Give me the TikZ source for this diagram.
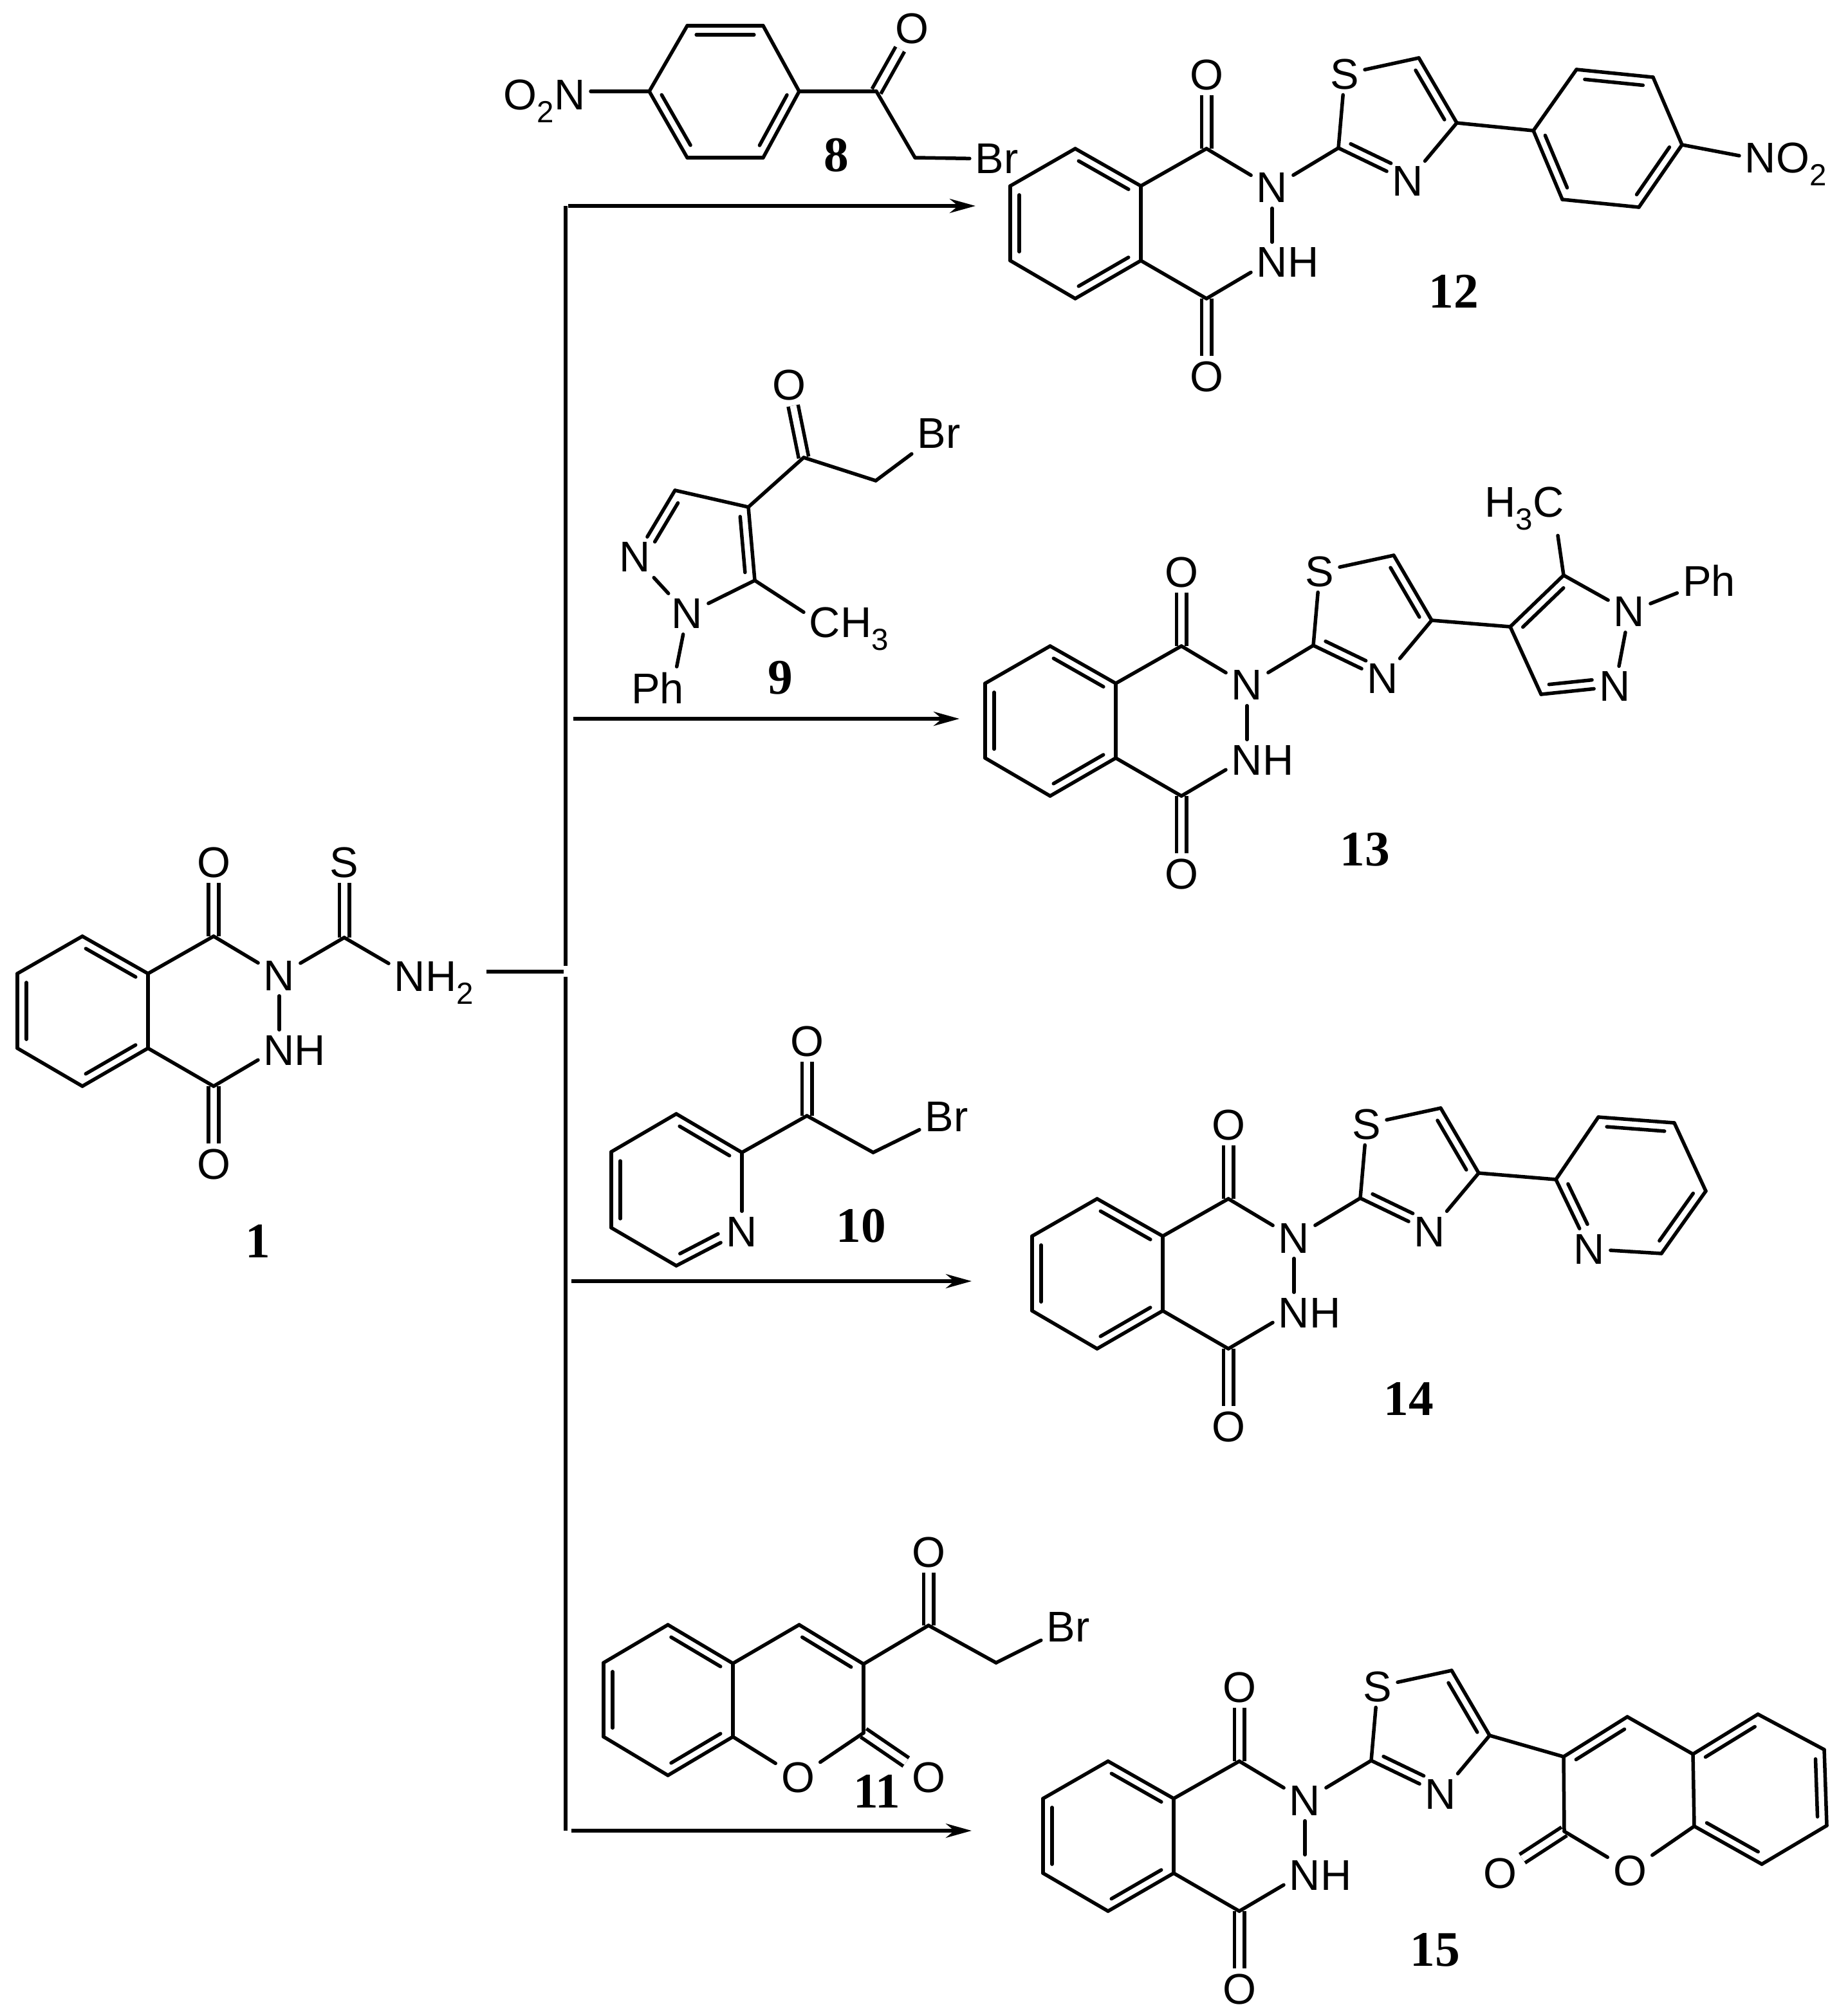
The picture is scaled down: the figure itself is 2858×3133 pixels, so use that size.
\documentclass[tikz,border=0pt]{standalone}
\usepackage{fontspec}
\setmainfont{Liberation Sans}
\newfontfamily\numfont{Liberation Serif}
\usetikzlibrary{calc,arrows.meta}
\newcommand{\atsub}[1]{\raisebox{-.3em}{\fontsize{13.5}{13.5}\selectfont #1}}
\newcommand{\inbond}[3][.12]{\draw ($(#2)!#1!(#3)!.14cm!-90:(#3)$) -- ($(#3)!.12!(#2)!.14cm!90:(#2)$);}
\tikzset{
  atom/.style={font=\fontsize{19}{19}\selectfont,inner sep=.06cm},
  num/.style={font=\numfont\bfseries\fontsize{22}{22}\selectfont,inner sep=0pt},
  dbl/.style={double,double distance=.1cm,line cap=butt},
  arr/.style={-{Stealth[length=.4cm,width=.22cm]},line cap=butt}
}
% phthalazinedione part, #2,#3 = upper fusion carbon
\newcommand{\core}[3]{
  \begin{scope}[shift={(#2,#3)}]
    \coordinate (#1top) at (-102,-58);
    \coordinate (#1ur) at (0,0);
    \coordinate (#1lr) at (0,116);
    \coordinate (#1bot) at (-102,175);
    \coordinate (#1ll) at (-203,116);
    \coordinate (#1ul) at (-203,0);
    \coordinate (#1ca) at (102,-58);
    \coordinate (#1cb) at (102,175);
    \node[atom] (#1N) at (204,3) {N};
    \node[atom] (#1NH) at (228,119) {NH};
    \node[atom] (#1Oa) at (102,-173) {O};
    \node[atom] (#1Ob) at (102,296) {O};
    \draw[dbl] (#1ca) -- (#1Oa);
    \draw[dbl] (#1cb) -- (#1Ob);
    \foreach \p/\q in {#1top/#1ur,#1ur/#1lr,#1lr/#1bot,#1bot/#1ll,#1ll/#1ul,#1ul/#1top,#1ur/#1ca,#1lr/#1cb,#1ca/#1N}
      \draw (\p) -- (\q);
    \draw (#1N) -- (#1N |- #1NH.north);
    \draw (#1cb) -- (#1NH.195);
    \inbond{#1top}{#1ur}
    \inbond{#1lr}{#1bot}
    \inbond{#1ll}{#1ul}
  \end{scope}
}
% thiazole ring hung on the core
\newcommand{\thiazolyl}[3]{
  \begin{scope}[shift={(#2,#3)}]
    \coordinate (#1tb) at (307,-59);
    \coordinate (#1td) at (432,-199);
    \coordinate (#1te) at (491,-98);
    \node[atom] (#1tS) at (317,-174) {S};
    \node[atom] (#1tN) at (415,-7) {N};
    \foreach \p/\q in {#1N/#1tb,#1tb/#1tS,#1tS/#1td,#1td/#1te,#1te/#1tN,#1tN/#1tb}
      \draw (\p) -- (\q);
    \inbond{#1td}{#1te}
    \inbond[.3]{#1tN}{#1tb}
  \end{scope}
}
\begin{document}
\begin{tikzpicture}[x=.01cm,y=-.01cm,line width=.055cm,line cap=round,line join=round]
  \useasboundingbox (0,0) rectangle (2858,3133);
  %compound 1
  \core{p1}{230}{1513}
  \coordinate (c1t) at (535,1457);
  \node[atom] (a1S) at (535,1340) {S};
  \node[atom,anchor=base west] (a1N) at (604,1540) {NH\atsub{2}};
  \draw[dbl] (c1t) -- (a1S);
  \draw (p1N) -- (c1t);
  \draw (c1t) -- (a1N.157);
  \node[num] (n1) at (401,1929) {1};
  %branch lines
  \coordinate (tail) at (756,1510);
  \coordinate (joint) at (876,1510);
  \coordinate (ltop) at (879,320);
  \coordinate (lup) at (879,1501);
  \coordinate (ldown) at (879,1518);
  \coordinate (lbot) at (879,2845);
  \draw[line cap=butt] (tail) -- (joint);
  \draw[line cap=butt] (ltop) -- (lup);
  \draw[line cap=butt] (ldown) -- (lbot);
  \foreach \n/\xa/\xb/\y in {a/883/1516/320,b/891/1491/1117,c/888/1510/1991,d/888/1510/2845}{
    \coordinate (s\n) at (\xa,\y);
    \coordinate (e\n) at (\xb,\y);
    \draw[arr] (s\n) -- (e\n);
  }
  %compound 8
  \coordinate (r8a) at (1009,142);
  \coordinate (r8b) at (1068,40);
  \coordinate (r8c) at (1186,40);
  \coordinate (r8d) at (1242,142);
  \coordinate (r8e) at (1186,245);
  \coordinate (r8f) at (1068,245);
  \coordinate (c8a) at (1362,142);
  \coordinate (c8b) at (1422,245);
  \node[atom] (a8O) at (1417,44) {O};
  \node[atom] (a8Br) at (1549,247) {Br};
  \node[atom,anchor=base east] (a8N) at (918,170) {O\atsub{2}N};
  \draw[dbl] (c8a) -- (a8O);
  \foreach \p/\q in {r8a/r8b,r8b/r8c,r8c/r8d,r8d/r8e,r8e/r8f,r8f/r8a,r8d/c8a,c8a/c8b,c8b/a8Br}
    \draw (\p) -- (\q);
  \draw (a8N.east |- r8a) -- (r8a);
  \inbond{r8b}{r8c}
  \inbond{r8d}{r8e}
  \inbond{r8f}{r8a}
  \node[num] (n8) at (1300,241) {8};
  %compound 12
  \core{p12}{1773}{289}
  \thiazolyl{p12}{1773}{289}
  \coordinate (r12a) at (2383,203);
  \coordinate (r12b) at (2450,108);
  \coordinate (r12c) at (2569,120);
  \coordinate (r12d) at (2614,225);
  \coordinate (r12e) at (2547,322);
  \coordinate (r12f) at (2428,310);
  \node[atom,anchor=base west] (a12N) at (2703,268) {NO\atsub{2}};
  \foreach \p/\q in {p12te/r12a,r12a/r12b,r12b/r12c,r12c/r12d,r12d/r12e,r12e/r12f,r12f/r12a}
    \draw (\p) -- (\q);
  \draw (r12d) -- (a12N.170);
  \inbond{r12b}{r12c}
  \inbond{r12d}{r12e}
  \inbond{r12f}{r12a}
  \node[num] (n12) at (2259,453) {12};
  %compound 9
  \coordinate (c9a) at (1249,711);
  \coordinate (c9b) at (1361,747);
  \coordinate (r9a) at (1163,788);
  \coordinate (r9b) at (1049,762);
  \coordinate (r9c) at (1173,902);
  \node[atom] (a9O) at (1226,598) {O};
  \node[atom] (a9Br) at (1459,674) {Br};
  \node[atom] (a9Na) at (987,866) {N};
  \node[atom] (a9Nb) at (1068,954) {N};
  \node[atom,anchor=base west] (a9C) at (1249,990) {CH\atsub{3}};
  \node[atom] (a9Ph) at (1022,1069) {Ph};
  \draw[dbl] (c9a) -- (a9O);
  \foreach \p/\q in {c9a/c9b,c9b/a9Br,r9a/c9a,r9b/r9a,r9a/r9c,r9c/a9Nb,a9Nb/a9Na,a9Na/r9b}
    \draw (\p) -- (\q);
  \draw (r9c) -- (a9C.160);
  \draw (a9Nb) -- (a9Ph.48);
  \inbond{r9a}{r9c}
  \inbond[.3]{a9Na}{r9b}
  \node[num] (n9) at (1213,1053) {9};
  %compound 13
  \core{p13}{1734}{1062}
  \thiazolyl{p13}{1734}{1062}
  \coordinate (r13a) at (2347,974);
  \coordinate (r13b) at (2430,894);
  \coordinate (r13c) at (2395,1079);
  \node[atom] (a13Na) at (2532,951) {N};
  \node[atom] (a13Nb) at (2510,1067) {N};
  \node[atom,anchor=base east] (a13C) at (2439,803) {H\atsub{3}C};
  \node[atom] (a13Ph) at (2656,902) {Ph};
  \foreach \p/\q in {p13te/r13a,r13a/r13b,r13b/a13Na,a13Na/a13Nb,a13Nb/r13c,r13c/r13a,a13Na/a13Ph}
    \draw (\p) -- (\q);
  \draw (r13b) -- ($(a13C.south east)+(-18,0)$);
  \inbond{r13a}{r13b}
  \inbond[.3]{a13Nb}{r13c}
  \node[num] (n13) at (2121,1320) {13};
  %compound 10
  \coordinate (c10a) at (1254,1734);
  \coordinate (c10b) at (1357,1791);
  \coordinate (r10a) at (1153,1791);
  \coordinate (r10b) at (1051,1967);
  \coordinate (r10c) at (950,1908);
  \coordinate (r10d) at (950,1790);
  \coordinate (r10e) at (1051,1731);
  \node[atom] (a10O) at (1254,1618) {O};
  \node[atom] (a10Br) at (1471,1735) {Br};
  \node[atom] (a10N) at (1153,1914) {N};
  \draw[dbl] (c10a) -- (a10O);
  \foreach \p/\q in {r10a/c10a,c10a/c10b,c10b/a10Br,r10a/a10N,a10N/r10b,r10b/r10c,r10c/r10d,r10d/r10e,r10e/r10a}
    \draw (\p) -- (\q);
  \inbond[.3]{a10N}{r10b}
  \inbond{r10c}{r10d}
  \inbond{r10e}{r10a}
  \node[num] (n10) at (1338,1905) {10};
  %compound 14
  \core{p14}{1807}{1921}
  \thiazolyl{p14}{1807}{1921}
  \coordinate (r14a) at (2418,1833);
  \coordinate (r14b) at (2484,1736);
  \coordinate (r14c) at (2602,1745);
  \coordinate (r14d) at (2651,1851);
  \coordinate (r14e) at (2582,1948);
  \node[atom] (a14N) at (2470,1941) {N};
  \foreach \p/\q in {p14te/r14a,r14a/r14b,r14b/r14c,r14c/r14d,r14d/r14e,r14e/a14N,a14N/r14a}
    \draw (\p) -- (\q);
  \inbond{r14b}{r14c}
  \inbond{r14d}{r14e}
  \inbond[.3]{a14N}{r14a}
  \node[num] (n14) at (2189,2174) {14};
  %compound 11
  \coordinate (c11a) at (1443,2526);
  \coordinate (c11b) at (1548,2584);
  \coordinate (r11a) at (1342,2586);
  \coordinate (r11b) at (1242,2525);
  \coordinate (r11c) at (1139,2585);
  \coordinate (r11d) at (1139,2699);
  \coordinate (r11e) at (1038,2759);
  \coordinate (r11f) at (938,2699);
  \coordinate (r11g) at (938,2584);
  \coordinate (r11h) at (1038,2525);
  \coordinate (r11i) at (1342,2693);
  \node[atom] (a11Oa) at (1443,2412) {O};
  \node[atom] (a11Br) at (1660,2528) {Br};
  \node[atom] (a11Ob) at (1240,2762) {O};
  \node[atom] (a11Oc) at (1443,2762) {O};
  \draw[dbl] (c11a) -- (a11Oa);
  \draw[dbl] (r11i) -- (a11Oc);
  \foreach \p/\q in {r11a/c11a,c11a/c11b,c11b/a11Br,r11a/r11b,r11b/r11c,r11c/r11d,r11d/r11e,r11e/r11f,r11f/r11g,r11g/r11h,r11h/r11c,r11a/r11i,r11i/a11Ob,a11Ob/r11d}
    \draw (\p) -- (\q);
  \inbond{r11b}{r11a}
  \inbond{r11h}{r11c}
  \inbond{r11d}{r11e}
  \inbond{r11f}{r11g}
  \node[num] (n11) at (1363,2784) {11};
  %compound 15
  \core{p15}{1824}{2795}
  \thiazolyl{p15}{1824}{2795}
  \coordinate (r15a) at (2430,2730);
  \coordinate (r15b) at (2529,2668);
  \coordinate (r15c) at (2631,2726);
  \coordinate (r15d) at (2732,2664);
  \coordinate (r15e) at (2835,2719);
  \coordinate (r15f) at (2839,2837);
  \coordinate (r15g) at (2738,2897);
  \coordinate (r15h) at (2633,2838);
  \coordinate (r15i) at (2431,2846);
  \node[atom] (a15Oa) at (2533,2907) {O};
  \node[atom] (a15Ob) at (2331,2911) {O};
  \draw[dbl] (r15i) -- (a15Ob);
  \foreach \p/\q in {p15te/r15a,r15a/r15b,r15b/r15c,r15c/r15d,r15d/r15e,r15e/r15f,r15f/r15g,r15g/r15h,r15h/r15c,r15h/a15Oa,a15Oa/r15i,r15i/r15a}
    \draw (\p) -- (\q);
  \inbond{r15a}{r15b}
  \inbond{r15c}{r15d}
  \inbond{r15e}{r15f}
  \inbond{r15g}{r15h}
  \node[num] (n15) at (2230,3030) {15};
\end{tikzpicture}
\end{document}
